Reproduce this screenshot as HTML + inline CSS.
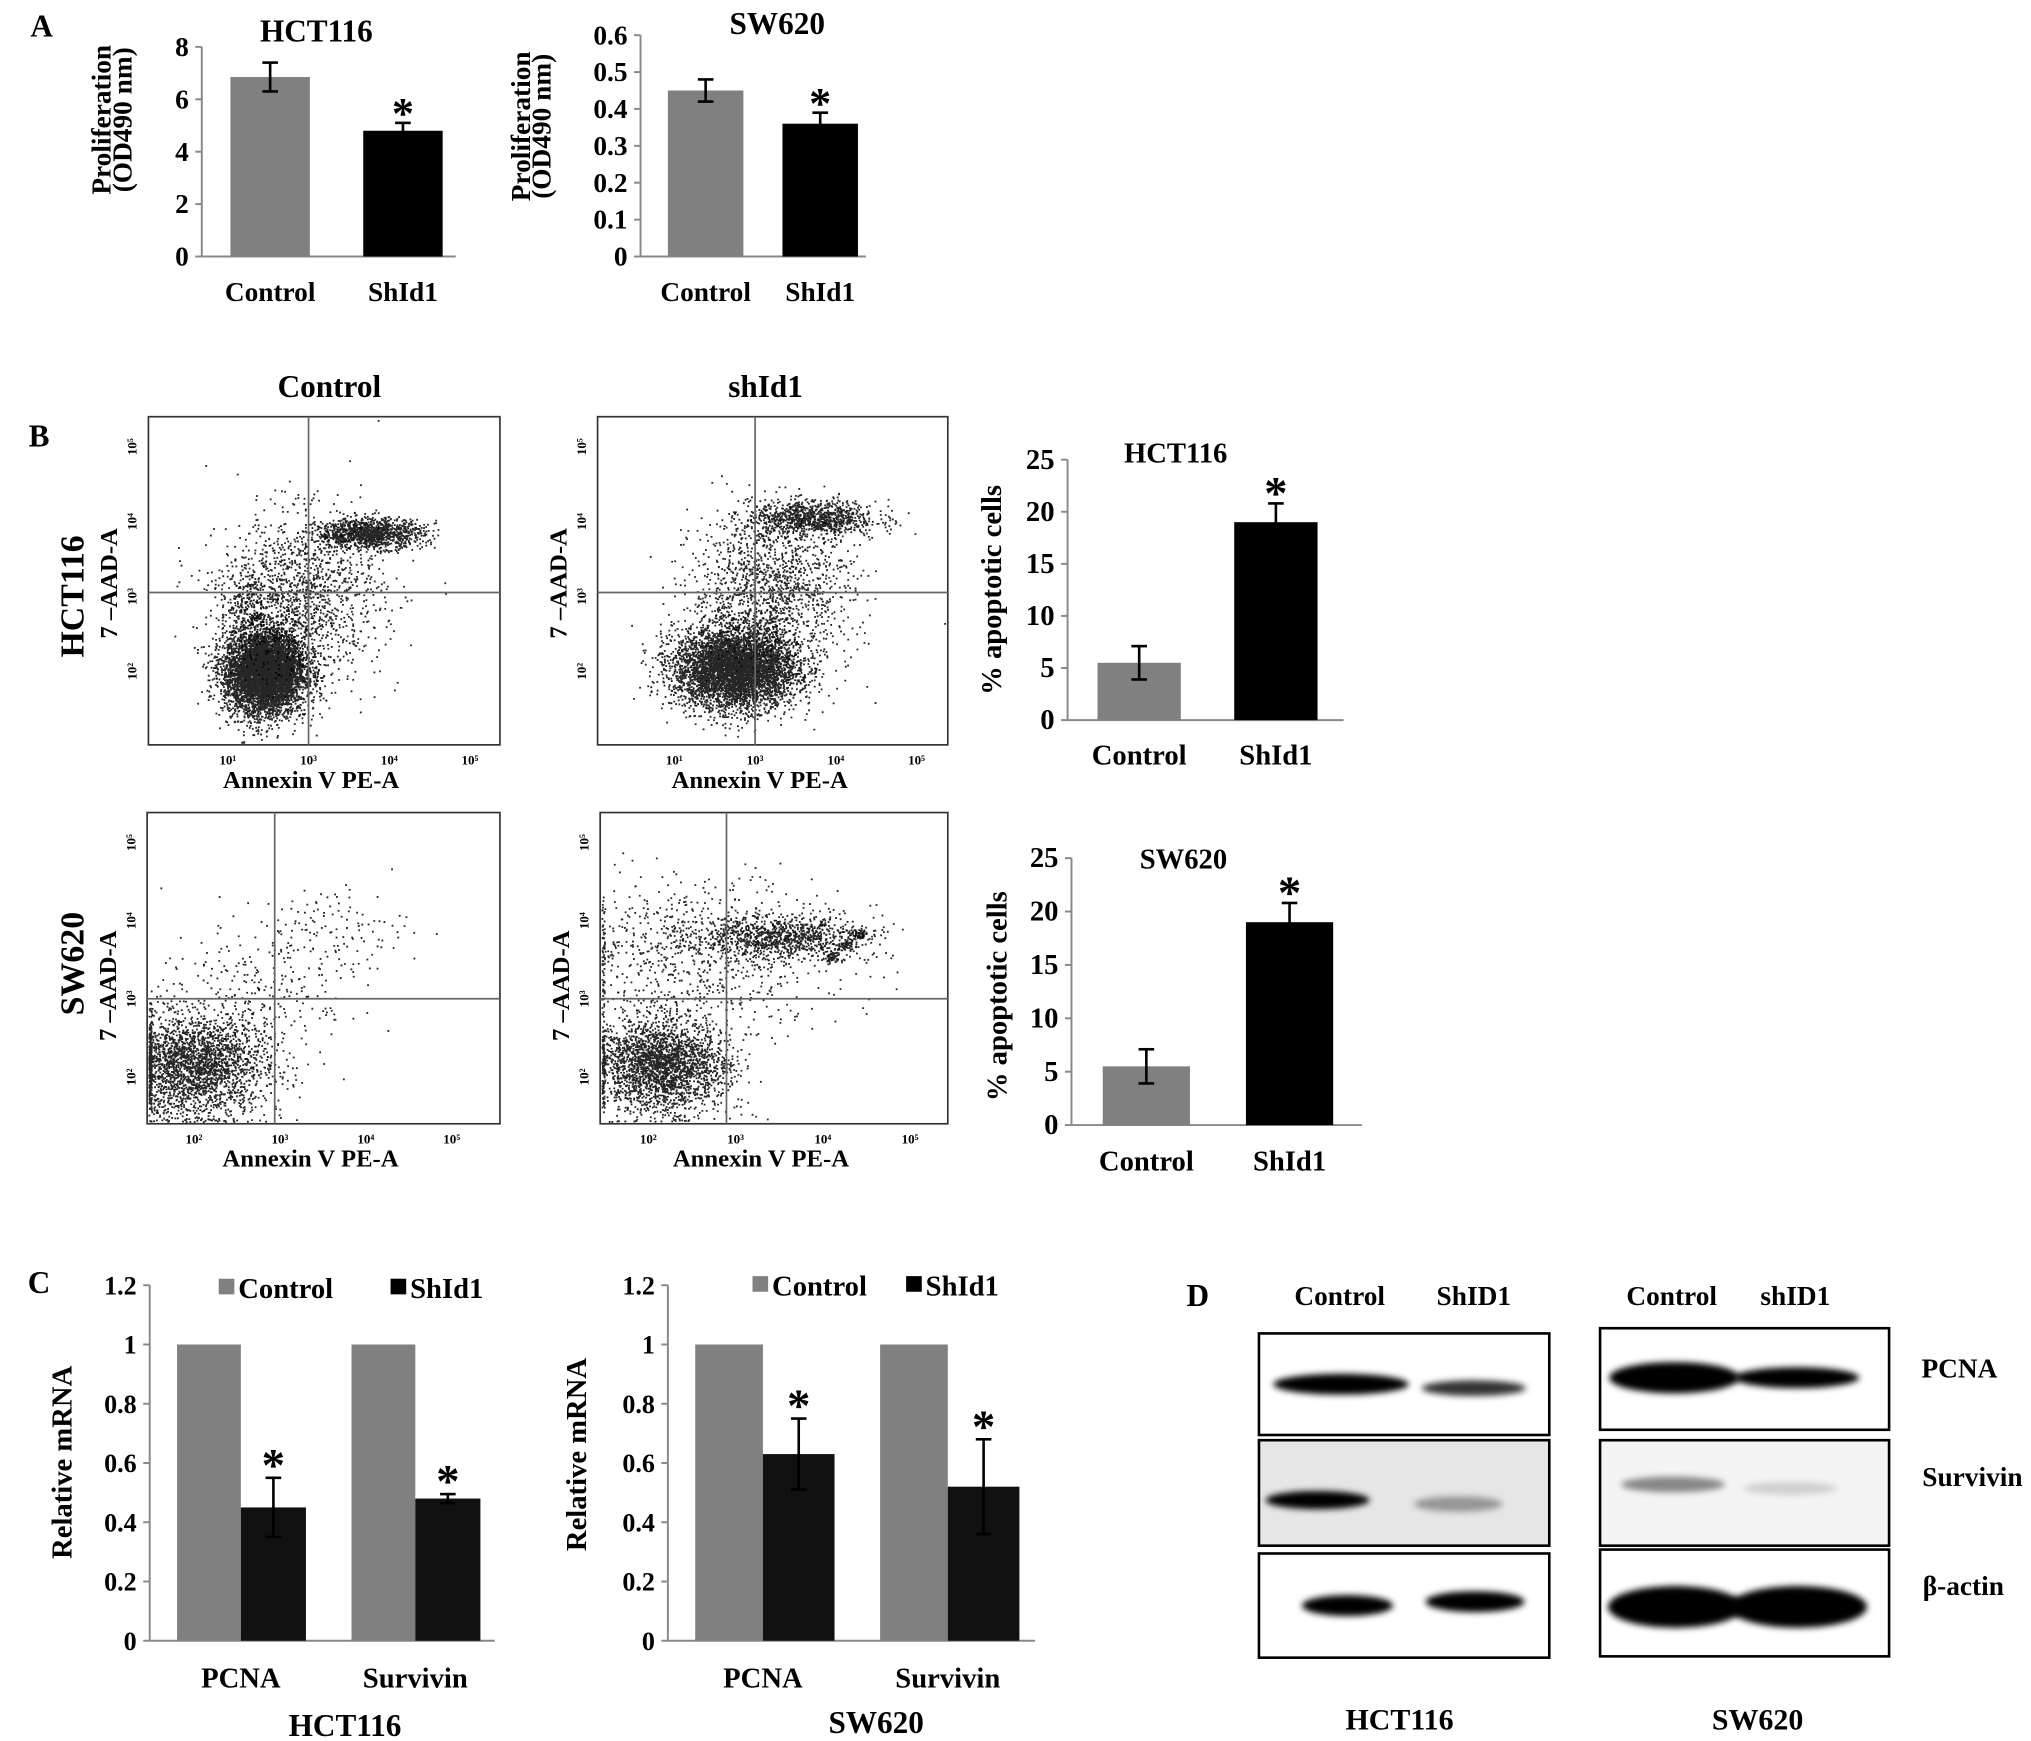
<!DOCTYPE html>
<html><head><meta charset="utf-8"><style>
html,body{margin:0;padding:0;background:#fff;}
svg{display:block;}
text{font-family:"Liberation Serif",serif;font-weight:bold;fill:#000;}
</style></head><body>
<svg id="fig" width="2031" height="1741" viewBox="0 0 1560 1337" preserveAspectRatio="none" xmlns="http://www.w3.org/2000/svg">
<defs>
<filter id="blur2" x="-50%" y="-100%" width="200%" height="300%"><feGaussianBlur stdDeviation="2.5"/></filter>
</defs>
<g id="root"></g>
</svg>
<script>
// ---------- DATA ----------
const catsA = ["Control","ShId1"];
const a1Vals = [6.85, 4.8];
const a1Err = [0.55, 0.3];
const a1Ticks = ["0","2","4","6","8"];
const a2Vals = [0.45, 0.36];
const a2Err = [0.03, 0.03];
const a2Ticks = ["0","0.1","0.2","0.3","0.4","0.5","0.6"];
const b1Vals = [5.5, 19];
const b1Err = [1.6, 1.8];
const b2Vals = [5.5, 19];
const b2Err = [1.6, 1.8];
const bTicks = ["0","5","10","15","20","25"];
const genes = ["PCNA","Survivin"];
const c1Control = [1, 1];
const c1Sh = [0.45, 0.48];
const c1ShErr = [0.1, 0.015];
const c2Control = [1, 1];
const c2Sh = [0.63, 0.52];
const c2ShErr = [0.12, 0.16];
const cTicks = ["0","0.2","0.4","0.6","0.8","1","1.2"];
// flow clusters: [log annexin, log 7AAD, sdx, sdy, count]
const flowHctCtl = [[2.45,2.0,0.25,0.28,6000],[3.75,3.85,0.33,0.1,1200],[2.9,3.0,0.5,0.55,1400],[2.2,2.9,0.15,0.2,200]];
const flowHctSh = [[2.75,2.05,0.38,0.27,6500],[3.7,4.05,0.4,0.12,1000],[3.2,3.1,0.5,0.5,1400]];
const flowSwCtl = [[2.0,2.15,0.42,0.32,5000],[3.5,3.85,0.5,0.3,150],[2.6,3.0,0.5,0.4,250]];
const flowSwSh = [[2.15,2.15,0.38,0.3,5500],[3.55,3.8,0.45,0.13,900],[2.6,3.6,0.8,0.45,900],[4.1,3.55,0.05,0.04,60],[4.25,3.7,0.05,0.04,60],[4.4,3.85,0.05,0.04,60]];

const NS="http://www.w3.org/2000/svg";
const root=document.getElementById('root');
function el(tag,attrs,parent){const e=document.createElementNS(NS,tag);for(const k in attrs)e.setAttribute(k,attrs[k]);(parent||root).appendChild(e);return e;}
function txt(x,y,s,size,name,extra){const t=el('text',Object.assign({x:x,y:y,'font-size':size,'text-anchor':'middle'},extra||{}));t.textContent=s;


return t;}

function axes(g,ax,y0,yTop,xEnd,ticks,tmax,fs){
  const yS=v=>y0-(v/tmax)*(y0-yTop);
  el('line',{x1:ax,y1:yTop,x2:ax,y2:y0,stroke:'#888','stroke-width':1.5},g);
  el('line',{x1:ax,y1:y0,x2:xEnd,y2:y0,stroke:'#888','stroke-width':1.5},g);
  ticks.forEach(t=>{const v=parseFloat(t);const y=yS(v);
    el('line',{x1:ax-5,y1:y,x2:ax,y2:y,stroke:'#888','stroke-width':1.5},g);
    const l=txt(ax-10,y+7,t,fs,'y-tick-label',{'text-anchor':'end'});g.appendChild(l);});
  return yS;
}
function errBar(g,cx,yS,v,e,cap){
  el('line',{x1:cx,y1:yS(v+e),x2:cx,y2:yS(v-e),stroke:'#000','stroke-width':2},g);
  el('line',{x1:cx-cap,y1:yS(v+e),x2:cx+cap,y2:yS(v+e),stroke:'#000','stroke-width':2},g);
  el('line',{x1:cx-cap,y1:yS(v-e),x2:cx+cap,y2:yS(v-e),stroke:'#000','stroke-width':2},g);
}
function simpleBar(name,cfg,vals,errs,ticks,tmax){
  const g=el('g',{});
  
  
  const yS=axes(g,cfg.ax,cfg.y0,cfg.yTop,cfg.xEnd,ticks,tmax,cfg.fs);
  vals.forEach((v,i)=>{
    const x=cfg.bx[i];
    const r=el('rect',{x:x,y:yS(v),width:cfg.bw,height:cfg.y0-yS(v),fill:i==0?'#808080':'#000'},g);
    
    
    errBar(g,x+cfg.bw/2,yS,v,errs[i],6);
    const l=txt(x+cfg.bw/2,cfg.y0+cfg.lblDy,catsA[i],cfg.lfs,'x-tick-label');g.appendChild(l);
  });
  const s=txt(cfg.bx[1]+cfg.bw/2,yS(vals[1]+errs[1])+4,'*',cfg.sfs,'significance-star');g.appendChild(s);
  return g;
}
function groupBar(name,cfg,ctl,sh,shErr,ticks){
  const g=el('g',{});
  
  
  const yS=axes(g,cfg.ax,cfg.y0,cfg.yTop,cfg.xEnd,ticks,1.2,20);
  genes.forEach((gn,i)=>{
    const x=cfg.gx[i];
    const r1=el('rect',{x:x,y:yS(ctl[i]),width:cfg.bw,height:cfg.y0-yS(ctl[i]),fill:'#808080'},g);
    
    
    const r2=el('rect',{x:x+cfg.bw,y:yS(sh[i]),width:cfg.bw2,height:cfg.y0-yS(sh[i]),fill:'#111'},g);
    
    
    const cx=x+cfg.bw+cfg.bw2/2;
    errBar(g,cx,yS,sh[i],shErr[i],6);
    const s=txt(cx,yS(sh[i]+shErr[i])+2,'*',36,'significance-star');g.appendChild(s);
    const l=txt(x+cfg.bw,cfg.y0+36,gn,22,'x-tick-label');g.appendChild(l);
  });
  return g;
}

// Panel A
txt(32,28,'A',24,'panel-label-a');
txt(243,32,'HCT116',24,'chart-title');
simpleBar('chart-a-hct116',{ax:155,y0:197,yTop:36,xEnd:350,bx:[177,279],bw:61,fs:21,lfs:21,lblDy:34,sfs:34},a1Vals,a1Err,a1Ticks,8);
txt(0,0,'Proliferation',21,'y-axis-title',{transform:'translate(85,92) rotate(-90)'});
txt(0,0,'(OD490 nm)',21,'y-axis-title',{transform:'translate(101,92) rotate(-90)'});
txt(597,26,'SW620',24,'chart-title');
simpleBar('chart-a-sw620',{ax:492,y0:197,yTop:27,xEnd:665,bx:[513,601],bw:58,fs:21,lfs:21,lblDy:34,sfs:34},a2Vals,a2Err,a2Ticks,0.6);
txt(0,0,'Proliferation',21,'y-axis-title',{transform:'translate(407,97) rotate(-90)'});
txt(0,0,'(OD490 nm)',21,'y-axis-title',{transform:'translate(423,97) rotate(-90)'});

// Panel B headers
txt(253,305,'Control',24,'column-title');
txt(588,305,'shId1',24,'column-title');
txt(30,343,'B',24,'panel-label-b');
txt(0,0,'HCT116',26,'row-title',{transform:'translate(64,458) rotate(-90)'});
txt(0,0,'SW620',26,'row-title',{transform:'translate(64,740) rotate(-90)'});

// Flow plots
let seed=12345;
function rnd(){seed=(seed*1103515245+12345)%2147483648;return seed/2147483648;}
function gauss(){let u=0,v=0;while(u===0)u=rnd();v=rnd();return Math.sqrt(-2*Math.log(u))*Math.cos(2*Math.PI*v);}
function flow(name,box,xm,ym,gate,clusters,xt,yt){
  const g=el('g',{});
  
  
  el('rect',{x:box[0],y:box[1],width:box[2]-box[0],height:box[3]-box[1],fill:'#fff',stroke:'#333','stroke-width':1.3},g);
  const X=l=>xm[0]+(l-3)*xm[1], Y=l=>ym[0]-(l-3)*ym[1];
  clusters.forEach(c=>{
    let d='';
    for(let i=0;i<c[4];i++){
      let x=X(c[0]+gauss()*c[2]), y=Y(c[1]+gauss()*c[3]);
      if(x<box[0]+1)x=box[0]+1+rnd()*2;
      if(y>box[3]-2)y=box[3]-2-rnd()*2;
      if(x>box[2]-2||y<box[1]+1)continue;
      d+='M'+x.toFixed(1)+' '+y.toFixed(1)+'h1.4v1.4h-1.4z';
    }
    const p=el('path',{d:d,fill:'#000','fill-opacity':0.85},g);
    
    
  });
  el('line',{x1:gate[0],y1:box[1],x2:gate[0],y2:box[3],stroke:'#666','stroke-width':1.3},g);
  el('line',{x1:box[0],y1:gate[1],x2:box[2],y2:gate[1],stroke:'#666','stroke-width':1.3},g);
  xt.forEach(t=>{const l=txt(X(t[0]),box[3]+15,t[1],10,'x-tick-label');g.appendChild(l);});
  yt.forEach(t=>{const l=txt(0,0,t[1],10,'y-tick-label',{transform:'translate('+(box[0]-9)+','+Y(t[0])+') rotate(-90)'});g.appendChild(l);});
  const ax=txt((box[0]+box[2])/2-10,box[3]+33,'Annexin V PE-A',19,'x-axis-title');g.appendChild(ax);
  const ay=txt(0,0,'7 –AAD-A',19,'y-axis-title',{transform:'translate('+(box[0]-24)+','+(ym[0]-10)+') rotate(-90)'});g.appendChild(ay);
}
const ytA=[[2,'10²'],[3,'10³'],[4,'10⁴'],[5,'10⁵']];
const xtB=[[2,'10²'],[3,'10³'],[4,'10⁴'],[5,'10⁵']];
flow('flow-hct116-control',[114,320,384,572],[237,62],[458,57.5],[237,455],flowHctCtl,[[2,'10¹'],[3,'10³'],[4,'10⁴'],[5,'10⁵']],ytA);
flow('flow-hct116-shid1',[459,320,728,572],[580,62],[458,57.5],[580,455],flowHctSh,[[2,'10¹'],[3,'10³'],[4,'10⁴'],[5,'10⁵']],ytA);
flow('flow-sw620-control',[113,624,384,863],[215,66],[767,60],[211,767],flowSwCtl,xtB,ytA);
flow('flow-sw620-shid1',[461,624,728,863],[565,67],[767,60],[558,767],flowSwSh,xtB,ytA);

// B bar charts
txt(903,355,'HCT116',22,'chart-title');
simpleBar('chart-b-hct116',{ax:820,y0:553,yTop:353,xEnd:1032,bx:[843,948],bw:64,fs:22,lfs:22,lblDy:34,sfs:36},b1Vals,b1Err,bTicks,25);
txt(0,0,'% apoptotic cells',22,'y-axis-title',{transform:'translate(769,453) rotate(-90)'});
txt(909,667,'SW620',22,'chart-title');
simpleBar('chart-b-sw620',{ax:823,y0:864,yTop:659,xEnd:1046,bx:[847,957],bw:67,fs:22,lfs:22,lblDy:35,sfs:36},b2Vals,b2Err,bTicks,25);
txt(0,0,'% apoptotic cells',22,'y-axis-title',{transform:'translate(773,765) rotate(-90)'});

// Panel C
txt(30,993,'C',24,'panel-label-c');
groupBar('chart-c-hct116',{ax:115,y0:1260,yTop:987,xEnd:380,gx:[136,270],bw:49,bw2:50},c1Control,c1Sh,c1ShErr,cTicks);
groupBar('chart-c-sw620',{ax:513,y0:1260,yTop:987,xEnd:795,gx:[534,676],bw:52,bw2:55},c2Control,c2Sh,c2ShErr,cTicks);
txt(0,0,'Relative mRNA',22,'y-axis-title',{transform:'translate(55,1123) rotate(-90)'});
txt(0,0,'Relative mRNA',22,'y-axis-title',{transform:'translate(450,1117) rotate(-90)'});
txt(265,1333,'HCT116',24,'x-axis-title');
txt(673,1331,'SW620',24,'x-axis-title');
[[168,'#808080','Control'],[300,'#000','ShId1'],[578,'#808080','Control'],[696,'#000','ShId1']].forEach(l=>{
  const r=el('rect',{x:l[0],y:l[0]>500?980:982,width:12,height:12,fill:l[1]});
  
  
  txt(l[0]+15,l[0]>500?995:997,l[2],22,'legend-entry',{'text-anchor':'start'});
});

// Panel D
txt(920,1003,'D',24,'panel-label-d');
txt(1029,1002,'Control',21,'lane-label');txt(1132,1002,'ShID1',21,'lane-label');
txt(1284,1002,'Control',21,'lane-label');txt(1379,1002,'shID1',21,'lane-label');
txt(1505,1058,'PCNA',21,'protein-label');txt(1515,1141,'Survivin',21,'protein-label');txt(1508,1225,'β-actin',21,'protein-label');
txt(1075,1328,'HCT116',23,'cell-line-label');txt(1350,1328,'SW620',23,'cell-line-label');
const blots=[
 [[967,1024,1190,1102],'#fff',[[1030,1063,52,8,1],[1132,1066,40,6,0.8]]],
 [[967,1106,1190,1187],'#e6e6e6',[[1012,1152,40,7,1],[1120,1155,34,6,0.35]]],
 [[967,1193,1190,1273],'#fff',[[1035,1233,35,8,1],[1133,1230,38,8,1]]],
 [[1229,1020,1451,1098],'#fff',[[1286,1058,50,12,1],[1380,1058,48,8,1]]],
 [[1229,1106,1451,1187],'#f4f4f4',[[1285,1140,40,6,0.45],[1375,1143,36,5,0.15]]],
 [[1229,1190,1451,1272],'#fff',[[1287,1234,52,16,1],[1381,1234,53,16,1]]]];
blots.forEach((b,i)=>{
  const g=el('g',{});
  
  
  el('rect',{x:b[0][0],y:b[0][1],width:b[0][2]-b[0][0],height:b[0][3]-b[0][1],fill:b[1],stroke:'#000','stroke-width':2},g);
  b[2].forEach(e=>{
    const o=el('ellipse',{cx:e[0],cy:e[1],rx:e[2],ry:e[3],fill:'#000','fill-opacity':e[4],filter:'url(#blur2)'},g);
    
    
  });
});
</script>
</body></html>
